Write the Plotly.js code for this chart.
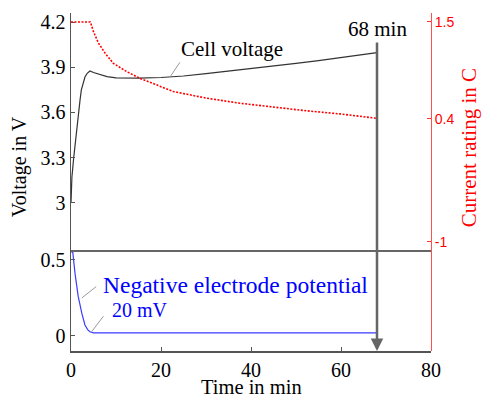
<!DOCTYPE html>
<html>
<head>
<meta charset="utf-8">
<script src="https://cdn.plot.ly/plotly-3.0.1.min.js"></script>
<style>html,body{margin:0;padding:0;background:#fff;}#chart{width:482px;height:401px;}</style>
</head>
<body>
<div id="chart"></div>
<script>
// Data
const cellTime = [0, 0.2, 0.6, 1.0, 1.5, 2.0, 2.3, 2.7, 3.1, 3.6, 4.2, 5.0, 6.4, 8, 10, 15, 20, 25, 30, 35, 40, 45, 50, 55, 60, 65, 68];
const cellVoltage = [3.0, 3.17, 3.3, 3.42, 3.56, 3.68, 3.75, 3.80, 3.835, 3.86, 3.875, 3.865, 3.85, 3.838, 3.83, 3.828, 3.832, 3.842, 3.858, 3.874, 3.89, 3.908, 3.926, 3.944, 3.964, 3.984, 3.997];
const currentTime = [0, 4.3, 5.0, 6.1, 7.6, 9.4, 12.4, 15.3, 22.7, 30.2, 37.6, 44.9, 52.4, 59.8, 68];
const currentRate = [1.5, 1.5, 1.39, 1.26, 1.144, 1.03, 0.935, 0.86, 0.71, 0.633, 0.576, 0.53, 0.49, 0.455, 0.405];
const negTime = [0, 0.4, 0.9, 1.6, 2.4, 3.1, 3.7, 4.2, 5, 68];
const negPotential = [0.555, 0.55, 0.41, 0.26, 0.15, 0.072, 0.042, 0.028, 0.02, 0.02];
const voltTicksTop = [3, 3.3, 3.6, 3.9, 4.2];
const voltTicksBottom = [0, 0.5];
const currentTicks = [1.5, 0.4, -1];
const timeTicks = [0, 20, 40, 60, 80];
const endTime = 68;

const serif = 'Liberation Serif';
const sans = 'Liberation Sans';
const axisCol = '#555';
const split = 100 / 338;

const traces = [
  {x: cellTime, y: cellVoltage, xaxis: 'x', yaxis: 'y', mode: 'lines', line: {color: '#333', width: 1.2}, hoverinfo: 'skip'},
  {x: negTime, y: negPotential, xaxis: 'x', yaxis: 'y2', mode: 'lines', line: {color: '#3b3bff', width: 1.2}, hoverinfo: 'skip'},
  {x: currentTime, y: currentRate, xaxis: 'x', yaxis: 'y3', mode: 'lines', line: {color: '#ff0000', width: 1.6, dash: '2px,1.5px'}, hoverinfo: 'skip'}
];

const tickFont = {family: serif, size: 20, color: '#000'};

const layout = {
  width: 482, height: 401,
  margin: {l: 71, r: 51, t: 13, b: 50},
  paper_bgcolor: '#fff', plot_bgcolor: 'rgba(0,0,0,0)',
  showlegend: false,
  font: {family: serif, size: 20, color: '#000'},
  xaxis: {
    domain: [0, 1], anchor: 'y2', range: [0, 80],
    tickvals: timeTicks, ticktext: timeTicks.map(String),
    ticks: 'inside', ticklen: 4, tickcolor: axisCol,
    showline: true, linecolor: axisCol, linewidth: 1.5,
    showgrid: false, zeroline: false,
    tickfont: tickFont
  },
  yaxis: {
    domain: [split, 1], anchor: 'x', range: [2.681, 4.26],
    tickvals: voltTicksTop, ticktext: voltTicksTop.map(String),
    ticks: 'inside', ticklen: 4, tickcolor: axisCol,
    showline: true, linecolor: axisCol, linewidth: 1.5,
    showgrid: false, zeroline: false,
    tickfont: tickFont
  },
  yaxis2: {
    domain: [0, split], anchor: 'x', range: [-0.099, 0.559],
    tickvals: voltTicksBottom, ticktext: voltTicksBottom.map(String),
    ticks: 'inside', ticklen: 4, tickcolor: axisCol,
    showline: true, linecolor: axisCol, linewidth: 1.5,
    showgrid: false, zeroline: false,
    tickfont: tickFont
  },
  yaxis3: {
    domain: [0, 1], anchor: 'x', side: 'right', range: [-2.24, 1.602],
    tickvals: currentTicks, ticktext: currentTicks.map(String),
    ticks: 'inside', ticklen: 4, tickcolor: '#ff3030',
    showline: true, linecolor: '#ff5050', linewidth: 1,
    showgrid: false, zeroline: false,
    tickfont: {family: sans, size: 14, color: '#ff0000'}
  },
  shapes: [
    {type: 'line', xref: 'paper', yref: 'paper', x0: 0, x1: 1, y0: split, y1: split, line: {color: '#666', width: 2}},
    {type: 'line', xref: 'x', yref: 'y', x0: 22, y0: 3.835, x1: 24.2, y1: 3.933, line: {color: '#999', width: 1}},
    {type: 'line', xref: 'x', yref: 'y2', x0: 2.4, y0: 0.25, x1: 5.6, y1: 0.325, line: {color: '#999', width: 1}},
    {type: 'line', xref: 'x', yref: 'y2', x0: 4.6, y0: 0.028, x1: 7.2, y1: 0.13, line: {color: '#999', width: 1}}
  ],
  annotations: [
    {x: endTime, xref: 'x', y: 0, yref: 'paper', text: '68 min', showarrow: true,
     ax: 0, ay: -322, arrowhead: 2, arrowsize: 1.0, arrowwidth: 2.5, arrowcolor: '#666', standoff: 0,
     font: {family: serif, size: 21, color: '#000'}},
    {x: 24.1, xref: 'x', y: 4.02, yref: 'y', text: 'Cell voltage', showarrow: false, xanchor: 'left', yanchor: 'middle',
     font: {family: serif, size: 21, color: '#000'}},
    {x: 6.6, xref: 'x', y: 0.335, yref: 'y2', text: 'Negative electrode potential', showarrow: false, xanchor: 'left', yanchor: 'middle',
     font: {family: serif, size: 23.5, color: '#0000ff'}},
    {x: 8.7, xref: 'x', y: 0.17, yref: 'y2', text: '20 mV', showarrow: false, xanchor: 'left', yanchor: 'middle',
     font: {family: serif, size: 20, color: '#0000ff'}},
    {x: 0.5, xref: 'paper', xanchor: 'center', y: 0, yref: 'paper', yanchor: 'middle', yshift: -36, text: 'Time in min', showarrow: false,
     font: {family: serif, size: 20.5, color: '#000'}},
    {x: 0, xref: 'paper', xanchor: 'center', y: 0.544, yref: 'paper', yanchor: 'middle', xshift: -52, text: 'Voltage in V', textangle: -90, showarrow: false,
     font: {family: serif, size: 20, color: '#000'}},
    {x: 1, xref: 'paper', xanchor: 'center', y: 0.6, yref: 'paper', yanchor: 'middle', xshift: 38, text: 'Current rating in C', textangle: -90, showarrow: false,
     font: {family: serif, size: 21, color: '#ff0000'}}
  ]
};

Plotly.newPlot('chart', traces, layout, {displayModeBar: false, staticPlot: true});
</script>
</body>
</html>
